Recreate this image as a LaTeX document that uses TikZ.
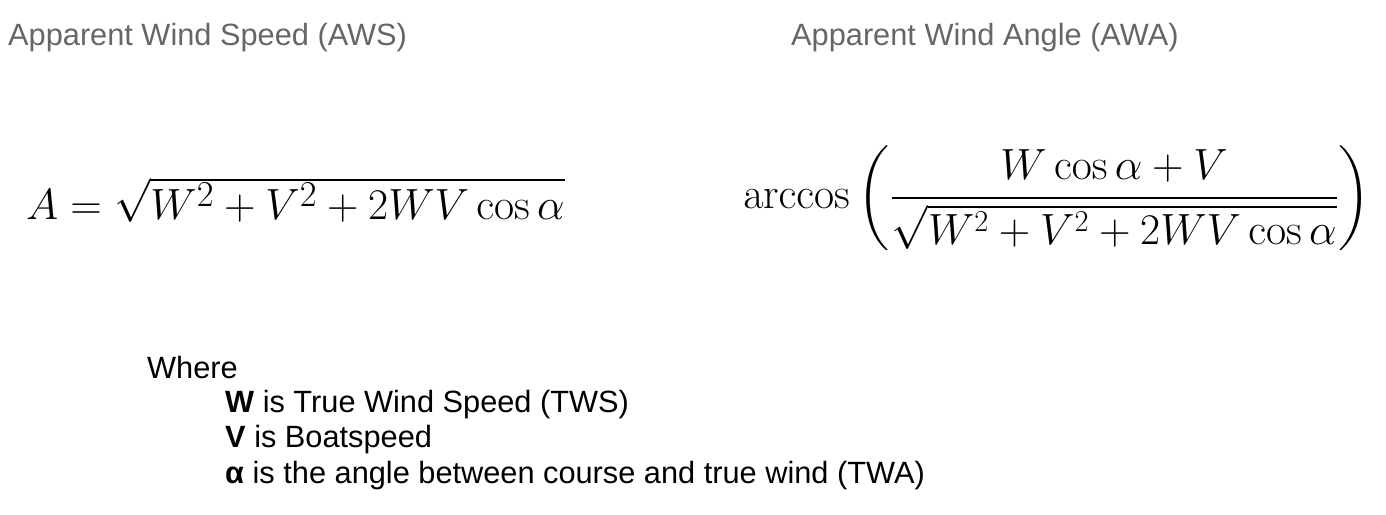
\documentclass[tikz,border=0pt]{standalone}
\usepackage{amsmath}
\usepackage[no-math]{fontspec}
\setmainfont{Liberation Sans}
\usetikzlibrary{positioning}
\tikzset{
  heading/.style={anchor=west, text=black!60, font=\fontsize{17.5}{21}\selectfont},
  formula/.style={anchor=west, font=\fontsize{29}{34}\selectfont},
  legend/.style={anchor=west, font=\fontsize{17.5}{21}\selectfont},
}
\begin{document}
\begin{tikzpicture}[x=0.02cm, y=-0.02cm]
    \useasboundingbox (0,0) rectangle (1386,514);
    \node[heading] (aws) at (2,38)    {Apparent Wind Speed (AWS)};
    \node[heading] (awa) at (785,38)  {Apparent Wind Angle (AWA)};
    \node[formula] (fa) at (20,200)   {$A=\sqrt{W^2+V^2+2WV\cos\alpha}$};
    \node[formula, font=\fontsize{23.2}{28}\selectfont] (fw) at (737,198)
      {$\displaystyle\arccos\left(\frac{W\cos\alpha+V}{\sqrt{W^2+V^2+2WV\cos\alpha}}\right)$};
    \node[legend] (where) at (141,368) {Where};
    \node[legend] (lw) at (219,405)   {\textbf{W} is True Wind Speed (TWS)};
    \node[legend] (lv) at (219,440)   {\textbf{V} is Boatspeed};
    \node[legend] (la) at (219,476)   {\textbf{α} is the angle between course and true wind (TWA)};
  \end{tikzpicture}
\end{document}
